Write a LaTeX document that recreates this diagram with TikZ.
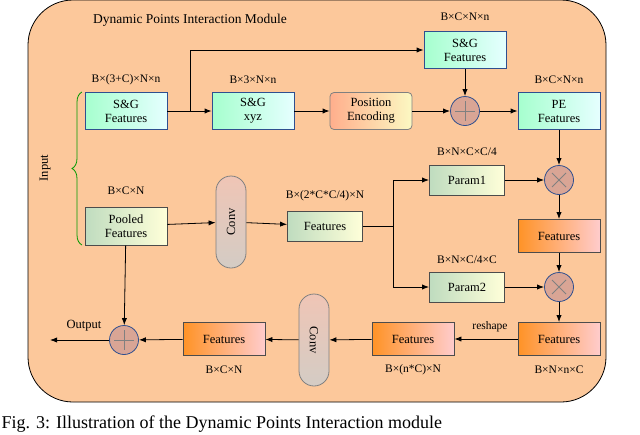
\documentclass[tikz,border=0pt]{standalone}
\usepackage{fontspec}
\setmainfont{Liberation Serif}
\usetikzlibrary{arrows.meta,decorations.pathreplacing,calc}
\definecolor{peach}{HTML}{FCC89B}
\definecolor{bdark}{HTML}{2F4F8F}
\definecolor{opc}{HTML}{D9A595}
\begin{document}
\begin{tikzpicture}[x=1pt,y=-1pt,font=\fontsize{12.5}{14}\selectfont,
 cy/.style={draw=bdark,thick,left color=cyan!45!green!35,right color=cyan!10,minimum width=82pt,minimum height=37pt,align=center,inner sep=1pt},
 gr/.style={draw=black!70,thick,left color=green!45!black!25!white,right color=yellow!15,minimum width=82pt,minimum height=34pt,align=center,inner sep=1pt},
 gs/.style={gr,minimum width=75pt,minimum height=30pt},
 og/.style={draw=black!70,thick,left color=orange!85,right color=red!20,minimum width=82pt,minimum height=33pt,align=center,inner sep=1pt},
 op/.style={circle,draw=bdark,thick,fill=opc,minimum size=29pt,inner sep=0pt},
 conv/.style={draw=gray,thick,rounded corners=15pt,top color=red!30!brown!35,bottom color=brown!30!gray!40,minimum width=30pt,minimum height=92pt},
 lab/.style={font=\fontsize{11.5}{13}\selectfont},
 ar/.style={-{Latex[length=7pt]},thick}]
\useasboundingbox (0,0) rectangle (640,434);
\fill[peach,draw=black,thick] (28,0) [rounded corners=45pt] rectangle (606,402);
\node[font=\fontsize{13.5}{15}\selectfont] at (190,20) {Dynamic Points Interaction Module};
\node[cy] (sg) at (126,111) {S\&G\\Features};
\node[lab] at (126,80) {B×(3+C)×N×n};
\node[cy] (xyz) at (253,111) {S\&G\\xyz};
\node[lab] at (253,80) {B×3×N×n};
\node[draw=gray,thick,rounded corners=4pt,left color=red!40!orange!45,right color=brown!20!yellow!25,minimum width=82pt,minimum height=37pt,align=center,inner sep=1pt] (pe) at (371,111) {Position\\Encoding};
\node[op] (p1) at (465,111) {};
\node[cy] (sgt) at (465,50) {S\&G\\Features};
\node[lab] at (465,17) {B×C×N×n};
\node[cy] (pef) at (559,111) {PE\\Features};
\node[lab] at (559,80) {B×C×N×n};
\node[op] (m1) at (559,180) {};
\node[gs] (pa1) at (467,180) {Param1};
\node[lab] at (467,152) {B×N×C×C/4};
\node[og] (f1) at (559,236) {Features};
\node[op] (m2) at (559,287) {};
\node[gs] (pa2) at (467,287) {Param2};
\node[lab] at (467,260) {B×N×C/4×C};
\node[og] (f2) at (559,339) {Features};
\node[lab] at (559,370) {B×N×n×C};
\node[lab] at (490,327) {reshape};
\node[og] (f3) at (413,339) {Features};
\node[lab] at (413,370) {B×(n*C)×N};
\node[conv] (c2) at (314,340) {};
\node[rotate=-90] at (314,340) {Conv};
\node[og] (f4) at (224,339) {Features};
\node[lab] at (224,370) {B×C×N};
\node[op] (p2) at (124,340) {};
\coordinate (out) at (50,340);
\node at (84,326) {Output};
\node[gr,minimum height=38pt] (pool) at (126,226) {Pooled\\Features};
\node[lab] at (126,191) {B×C×N};
\node[conv] (c1) at (231,222) {};
\node[rotate=90] at (231,222) {Conv};
\node[gs] (f5) at (325,226) {Features};
\node[lab] at (325,196) {B×(2*C*C/4)×N};
\foreach \c in {p1,p2}{\draw[gray,thick] ($(\c)+(0,-10)$) -- ($(\c)+(0,10)$) ($(\c)+(-10,0)$) -- ($(\c)+(10,0)$);}
\foreach \c in {m1,m2}{\draw[gray,thick] ($(\c)+(-7,-7)$) -- ($(\c)+(7,7)$) ($(\c)+(-7,7)$) -- ($(\c)+(7,-7)$);}
\draw[green!60!black,thick,decorate,decoration={brace,amplitude=10pt}] (82,245) -- (82,92);
\node[rotate=90] at (45,168) {Input};
\draw[ar] (sg) -- (xyz);
\draw[ar] (190,111) |- (sgt);
\draw[ar] (xyz) -- (pe);
\draw[ar] (pe) -- (p1);
\draw[ar] (sgt) -- (p1);
\draw[ar] (p1) -- (pef);
\draw[ar] (pef) -- (m1);
\draw[ar] (pa1) -- (m1);
\draw[ar] (m1) -- (f1);
\draw[ar] (f1) -- (m2);
\draw[ar] (pa2) -- (m2);
\draw[ar] (m2) -- (f2);
\draw[ar] (f2) -- (f3);
\draw[ar] (f3) -- (c2);
\draw[ar] (c2) -- (f4);
\draw[ar] (f4) -- (p2);
\draw[ar] (p2) -- (out);
\draw[ar] (pool) -- (p2);
\draw[ar] (pool) -- (c1);
\draw[ar] (c1) -- (f5);
\draw[ar] (f5) -| (393,180) -- (pa1);
\draw[ar] (393,226) |- (pa2);
\node[anchor=west,font=\fontsize{18}{20}\selectfont] at (-2,424) {Fig. 3: Illustration of the Dynamic Points Interaction module};
\end{tikzpicture}
\end{document}
